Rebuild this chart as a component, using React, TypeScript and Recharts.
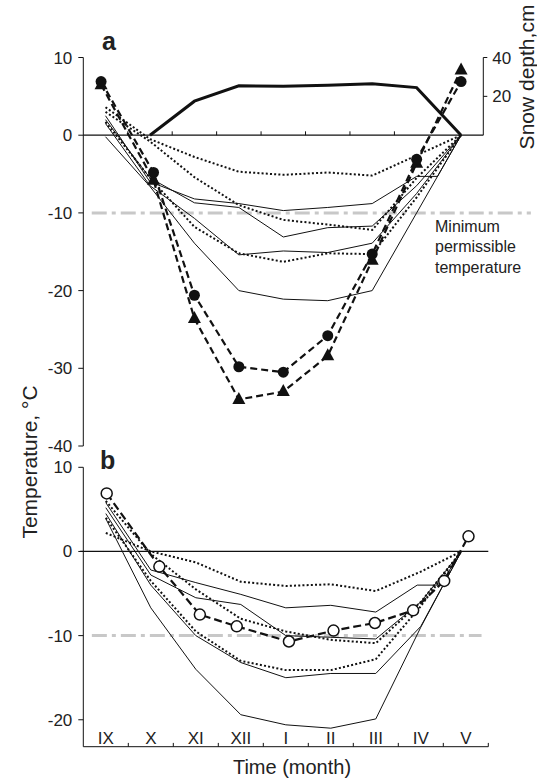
import { ComposedChart, Line, XAxis, YAxis, ReferenceLine } from "recharts";

// months, Sept..May
const MONTHS = ["IX", "X", "XI", "XII", "I", "II", "III", "IV", "V"];
const MONTH_POS = [0, 1, 2, 3, 4, 5, 6, 7, 8];
const EDGES = [0.5, 1.5, 2.5, 3.5, 4.5, 5.5, 6.5, 7.5, 8.5];

// panel a — air temperature, filled markers
const A_MEAS_X = [-0.1, 1.08, 2, 3, 4, 5, 6, 7, 8];
const A_CIRCLE = [6.9, -4.8, -20.6, -29.8, -30.5, -25.8, -15.3, -3.1, 6.9];
const A_TRIANGLE = [6.5, -5.8, -23.6, -34, -33, -28.4, -16.1, -3.6, 8.4];

// panel a — snow depth (cm)
const SNOW_X = [1, 2, 3, 4, 5, 6, 7, 8];
const SNOW = [0, 17.5, 25.4, 25.2, 25.7, 26.5, 24.5, 0];

// panel a — ground temperatures
const A_DOT1 = [3.6, -0.5, -2.8, -4.7, -5.1, -4.8, -5.2, -2.6, 0];
const A_DOT2 = [3.0, -0.8, -5.4, -9.0, -10.9, -11.5, -12.2, -5.5, 0];
const A_DOT3 = [1.7, -5.5, -11.8, -15.2, -16.3, -15.2, -15.3, -8.0, 0];
const A_SOL1_X = [0, 1, 2, 3, 4, 5, 6, 7, 7.47, 8];
const A_SOL1 = [2.5, -6.0, -8.2, -8.8, -9.7, -9.3, -8.8, -5.3, -5.3, 0];
const A_SOL2 = [2.0, -5.5, -8.7, -9.3, -13.1, -11.9, -11.7, -6.5, 0];
const A_SOL3 = [1.5, -6.5, -10.7, -15.4, -14.9, -15.1, -13.9, -7.5, 0];
const A_SOL4 = [-0.2, -6.6, -13.9, -20.0, -21.1, -21.3, -20.0, -10.0, 0];

// panel b — open markers
const B_MEAS_X = [0.02, 1.19, 2.09, 2.91, 4.07, 5.06, 5.98, 6.83, 7.52, 8.06];
const B_CIRCLE = [6.9, -1.8, -7.5, -8.9, -10.7, -9.4, -8.5, -7.0, -3.5, 1.8];

// panel b — ground temperatures
const B_X = [0, 1, 2, 3, 4, 5, 6, 7, 7.9];
const B_DOT1 = [2.2, 0, -1.3, -3.6, -4.1, -3.9, -4.7, -2.4, 0];
const B_DOT2 = [6.0, -0.3, -4.5, -8.0, -9.5, -10.5, -10.9, -6.0, 0];
const B_DOT3 = [4.0, -3.5, -9.5, -13.0, -14.1, -14.1, -12.8, -6.5, 0];
const B_SOL1_X = [0, 1, 2, 3, 4, 5, 6, 6.92, 7.43, 7.9];
const B_SOL1 = [5.8, -2.2, -3.7, -5.1, -6.7, -6.4, -7.2, -4.0, -4.0, 0];
const B_SOL2 = [5.2, -2.8, -5.5, -6.3, -10.0, -10.2, -10.4, -6.0, 0];
const B_SOL3 = [4.5, -4.0, -10.0, -13.2, -15.0, -14.5, -14.5, -8.9, 0];
const B_SOL4 = [3.9, -6.7, -14.0, -19.4, -20.6, -21.0, -19.9, -9.0, 0];

const MIN_TEMP = -10;
const B_FLOOR = -23.2;

const FONT = '"Liberation Sans", Arial, sans-serif';
const INK = "#111";
const TXT = "#222";
const GREY = "#c8c8c8";

const pts = (xs: number[], ys: number[]) => xs.map((x, i) => ({ x, y: ys[i] }));

const tickStyle = { fill: TXT, fontSize: 17, fontFamily: FONT };

function Triangle(props: any) {
  const { cx, cy, index } = props;
  if (cx == null || cy == null) return <g key={index} />;
  return (
    <polygon
      key={index}
      points={`${cx},${cy - 7.5} ${cx - 6.5},${cy + 4.5} ${cx + 6.5},${cy + 4.5}`}
      fill={INK}
    />
  );
}

// month names sit just above the axis line, inside the frame
function MonthTick(props: any) {
  const { x, y, payload } = props;
  return (
    <text x={x} y={y - 3} textAnchor="middle" fill={TXT} fontSize={17} fontFamily={FONT}>
      {MONTHS[payload.index] ?? ""}
    </text>
  );
}

const thin = { type: "linear" as const, stroke: INK, strokeWidth: 1, dot: false, isAnimationActive: false };
const dotted = { ...thin, strokeWidth: 2, strokeDasharray: "2 2.2" };

function PanelA() {
  return (
    <ComposedChart width={537} height={460} margin={{ top: 57.5, right: 0, bottom: 14, left: 0 }}>
      <XAxis type="number" dataKey="x" domain={[-0.5, 8.5]} hide />
      <YAxis
        yAxisId="t"
        domain={[-40, 10]}
        ticks={[10, 0, -10, -20, -30, -40]}
        width={83.3}
        stroke={INK}
        tickSize={5}
        tickMargin={6}
        tick={tickStyle}
        interval={0}
      />
      <YAxis
        yAxisId="snow"
        orientation="right"
        domain={[-160, 40]}
        ticks={[20, 40]}
        width={53.7}
        axisLine={false}
        stroke={INK}
        tickSize={4}
        tickMargin={5}
        tick={tickStyle}
      />

      {/* min permissible temperature, runs out past the frame */}
      <ReferenceLine
        yAxisId="t"
        segment={[{ x: -0.31, y: MIN_TEMP }, { x: 9.57, y: MIN_TEMP }]}
        stroke={GREY}
        strokeWidth={3}
        strokeDasharray="15 5 4 5"
        ifOverflow="visible"
      />
      {/* zero line doubles as the month axis */}
      <ReferenceLine yAxisId="t" y={0} stroke={INK} strokeWidth={1.3} />
      {EDGES.slice(0, 7).map(e => (
        <ReferenceLine
          key={e}
          yAxisId="t"
          segment={[{ x: e, y: 0 }, { x: e, y: 0.5 }]}
          stroke={INK}
          strokeWidth={1}
        />
      ))}
      {/* snow depth axis line — only covers 0..40 cm */}
      <ReferenceLine
        yAxisId="snow"
        segment={[{ x: 8.5, y: 0 }, { x: 8.5, y: 40 }]}
        stroke={INK}
        strokeWidth={1}
      />

      <Line yAxisId="t" data={pts(MONTH_POS, A_DOT1)} dataKey="y" {...dotted} />
      <Line yAxisId="t" data={pts(MONTH_POS, A_DOT2)} dataKey="y" {...dotted} />
      <Line yAxisId="t" data={pts(MONTH_POS, A_DOT3)} dataKey="y" {...dotted} />
      <Line yAxisId="t" data={pts(A_SOL1_X, A_SOL1)} dataKey="y" {...thin} />
      <Line yAxisId="t" data={pts(MONTH_POS, A_SOL2)} dataKey="y" {...thin} />
      <Line yAxisId="t" data={pts(MONTH_POS, A_SOL3)} dataKey="y" {...thin} />
      <Line yAxisId="t" data={pts(MONTH_POS, A_SOL4)} dataKey="y" {...thin} />

      <Line
        yAxisId="snow"
        data={pts(SNOW_X, SNOW)}
        dataKey="y"
        type="linear"
        stroke={INK}
        strokeWidth={3}
        dot={false}
        isAnimationActive={false}
      />

      <Line
        yAxisId="t"
        data={pts(A_MEAS_X, A_TRIANGLE)}
        dataKey="y"
        type="linear"
        stroke={INK}
        strokeWidth={2.2}
        strokeDasharray="7 4"
        dot={<Triangle />}
        isAnimationActive={false}
      />
      <Line
        yAxisId="t"
        data={pts(A_MEAS_X, A_CIRCLE)}
        dataKey="y"
        type="linear"
        stroke={INK}
        strokeWidth={2.2}
        strokeDasharray="7 4"
        dot={{ r: 5.5, fill: INK, stroke: INK, strokeWidth: 0, strokeDasharray: "" }}
        isAnimationActive={false}
      />
    </ComposedChart>
  );
}

function PanelB() {
  return (
    <ComposedChart width={537} height={338} margin={{ top: 27.3, right: 48.7, bottom: 30.3, left: 0 }}>
      <XAxis
        type="number"
        dataKey="x"
        domain={[-0.5, 8.5]}
        ticks={MONTH_POS}
        interval={0}
        stroke={INK}
        tickLine={false}
        tickSize={0}
        tickMargin={0}
        height={1}
        tick={<MonthTick />}
      />
      <YAxis
        yAxisId="t"
        domain={[B_FLOOR, 10]}
        ticks={[10, 0, -10, -20]}
        width={83.3}
        stroke={INK}
        tickSize={5}
        tickMargin={6}
        tick={tickStyle}
        interval={0}
      />

      {/* inward tick marks between months */}
      {EDGES.map(e => (
        <ReferenceLine
          key={e}
          yAxisId="t"
          segment={[{ x: e, y: B_FLOOR }, { x: e, y: B_FLOOR + 0.45 }]}
          stroke={INK}
          strokeWidth={1}
        />
      ))}

      <ReferenceLine
        yAxisId="t"
        segment={[{ x: -0.31, y: MIN_TEMP }, { x: 8.35, y: MIN_TEMP }]}
        stroke={GREY}
        strokeWidth={3}
        strokeDasharray="15 5 4 5"
      />
      <ReferenceLine
        yAxisId="t"
        segment={[{ x: -0.57, y: 0 }, { x: 8.5, y: 0 }]}
        stroke={INK}
        strokeWidth={1.3}
        ifOverflow="visible"
      />

      <Line yAxisId="t" data={pts(B_X, B_DOT1)} dataKey="y" {...dotted} />
      <Line yAxisId="t" data={pts(B_X, B_DOT2)} dataKey="y" {...dotted} />
      <Line yAxisId="t" data={pts(B_X, B_DOT3)} dataKey="y" {...dotted} />
      <Line yAxisId="t" data={pts(B_SOL1_X, B_SOL1)} dataKey="y" {...thin} />
      <Line yAxisId="t" data={pts(B_X, B_SOL2)} dataKey="y" {...thin} />
      <Line yAxisId="t" data={pts(B_X, B_SOL3)} dataKey="y" {...thin} />
      <Line yAxisId="t" data={pts(B_X, B_SOL4)} dataKey="y" {...thin} />

      <Line
        yAxisId="t"
        data={pts(B_MEAS_X, B_CIRCLE)}
        dataKey="y"
        type="linear"
        stroke={INK}
        strokeWidth={2.2}
        strokeDasharray="8 4"
        dot={{ r: 5.5, fill: "#fff", stroke: INK, strokeWidth: 1.5, strokeDasharray: "" }}
        isAnimationActive={false}
      />
    </ComposedChart>
  );
}

const abs = (left: number, top: number) => ({ position: "absolute" as const, left, top });

export default function App() {
  return (
    <div
      style={{
        position: "absolute",
        left: 0,
        top: 0,
        width: 537,
        height: 778,
        background: "#fff",
        fontFamily: FONT,
        color: TXT,
        overflow: "hidden",
      }}
    >
      <div style={abs(0, 0)}>
        <PanelA />
      </div>
      <div style={abs(0, 440)}>
        <PanelB />
      </div>

      <div style={{ ...abs(102, 27), fontSize: 25, fontWeight: 700 }}>a</div>
      <div style={{ ...abs(100, 446), fontSize: 25, fontWeight: 700 }}>b</div>

      <div style={{ ...abs(435, 216.5), fontSize: 16, lineHeight: "20.5px" }}>
        Minimum
        <br />
        permissible
        <br />
        temperature
      </div>

      <div
        style={{
          ...abs(30, 462),
          fontSize: 21,
          whiteSpace: "nowrap",
          transform: "translate(-50%, -50%) rotate(-90deg)",
        }}
      >
        Temperature, °C
      </div>
      <div
        style={{
          ...abs(527, 77),
          fontSize: 21,
          whiteSpace: "nowrap",
          transform: "translate(-50%, -50%) rotate(-90deg)",
        }}
      >
        Snow depth,cm
      </div>
      <div
        style={{
          ...abs(292, 767),
          fontSize: 20,
          whiteSpace: "nowrap",
          transform: "translate(-50%, -50%)",
        }}
      >
        Time (month)
      </div>
    </div>
  );
}
